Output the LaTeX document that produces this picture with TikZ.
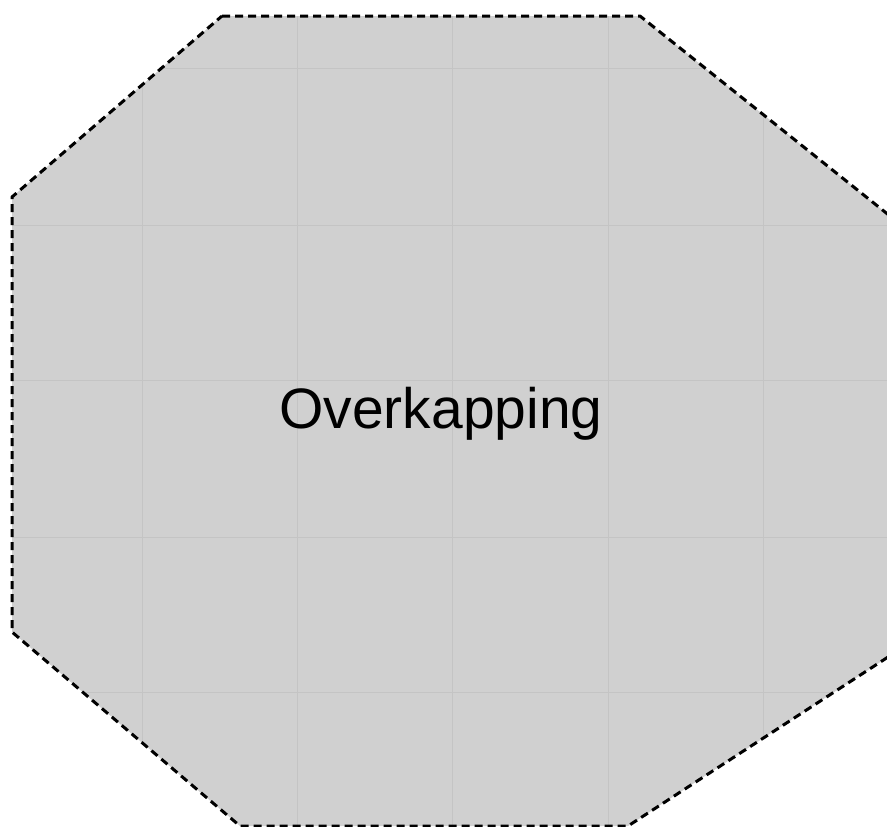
\documentclass[tikz,border=0pt]{standalone}
\usepackage{fontspec}
\setmainfont{Liberation Sans}
\definecolor{roofgray}{RGB}{208,208,208}
\definecolor{gridgray}{RGB}{196,196,196}
\tikzset{
  outline/.style={draw=black, line width=3pt, dash pattern=on 8pt off 5pt, line join=round},
  gridline/.style={draw=gridgray, line width=1pt},
  label/.style={font=\fontsize{57}{60}\selectfont, text=black}
}
\begin{document}
\begin{tikzpicture}[x=1pt,y=-1pt]
\useasboundingbox (0,0) rectangle (887,827);
\begin{scope}
\clip (0,0) rectangle (887,827);
\path[fill=roofgray] (222,16) -- (640,16) -- (905,228) -- (905,646) -- (628,826) -- (240,826) -- (12,632) -- (12,197) -- cycle;
\begin{scope}
\clip (222,16) -- (640,16) -- (905,228) -- (905,646) -- (628,826) -- (240,826) -- (12,632) -- (12,197) -- cycle;
\foreach \x in {142,297,452,608,763} \draw[gridline] (\x,0) -- (\x,827);
\foreach \y in {68,225,380,537,692} \draw[gridline] (0,\y) -- (887,\y);
\end{scope}
\draw[outline] (222,16) -- (640,16) -- (905,228) -- (905,646) -- (628,826) -- (240,826) -- (12,632) -- (12,197) -- cycle;
\end{scope}
\node[label] (title) at (441,414) {Overkapping};
\end{tikzpicture}
\end{document}
